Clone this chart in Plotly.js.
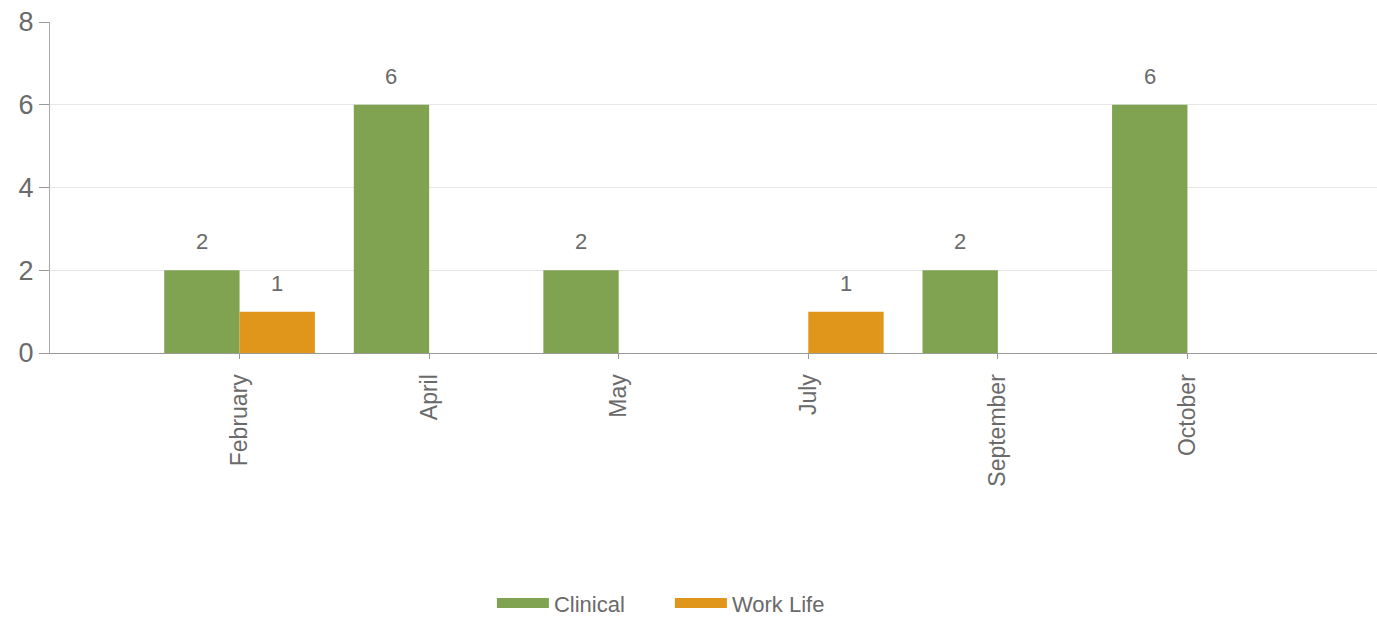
<!DOCTYPE html>
<html>
<head>
<meta charset="utf-8">
<script src="https://cdn.plot.ly/plotly-3.0.1.min.js"></script>
<style>html,body{margin:0;padding:0;background:#fff;}#chart{width:1377px;height:618px;}</style>
</head>
<body>
<div id="chart"></div>
<script>
const categories = ["February", "April", "May", "July", "September", "October"];
const clinical = [2, 6, 2, null, 2, 6];
const workLife = [1, null, null, 1, null, null];

const seriesNames = ["Clinical", "Work Life"];
const seriesColors = ["#7FA350", "#E0961A"];
const seriesValues = [clinical, workLife];

const FONT = "Liberation Sans, Arial, sans-serif";
const GREY = "#6a6a6a";

const traces = [];
seriesValues.forEach((vals, i) => {
  traces.push({
    type: "bar", name: seriesNames[i], x: categories, y: vals,
    marker: {color: seriesColors[i]}, showlegend: false, legendgroup: seriesNames[i]
  });
});
// legend-only entries drawn as wide swatches
seriesValues.forEach((vals, i) => {
  traces.push({
    type: "scatter", mode: "lines", name: seriesNames[i], x: [null], y: [null],
    line: {color: seriesColors[i], width: 18}, legendgroup: seriesNames[i], hoverinfo: "skip"
  });
});

// value labels above bars
const annotations = [];
seriesValues.forEach((vals, i) => {
  const shift = i === 0 ? -37.7 : 37.7;
  vals.forEach((v, j) => {
    if (v == null) return;
    annotations.push({
      x: categories[j], y: v, xref: "x", yref: "y",
      text: String(v), showarrow: false,
      xshift: shift, yshift: 14, yanchor: "bottom",
      font: {family: FONT, size: 22, color: GREY}
    });
  });
});

const layout = {
  width: 1377, height: 618,
  margin: {l: 50, r: 0, t: 22, b: 265, autoexpand: false},
  paper_bgcolor: "#fff", plot_bgcolor: "#fff",
  font: {family: FONT, color: GREY},
  barmode: "group", bargap: 0.205, bargroupgap: 0,
  showlegend: true,
  annotations: annotations,
  legend: {orientation: "h", x: 0.333, xanchor: "left", yref: "container", y: 0.024, yanchor: "middle",
           font: {size: 22, color: GREY}, itemwidth: 52, entrywidth: 111, traceorder: "normal"},
  xaxis: {
    type: "category", range: [-1, 6],
    tickangle: -90, tickfont: {size: 23, color: GREY},
    ticks: "outside", ticklen: 5, tickcolor: "#999",
    ticklabelstandoff: 6,
    showline: true, linecolor: "#999", linewidth: 1,
    showgrid: false, fixedrange: true, automargin: false
  },
  yaxis: {
    range: [0, 8], dtick: 2,
    tickfont: {size: 27, color: GREY},
    ticks: "outside", ticklen: 10, tickcolor: "#999",
    showline: true, linecolor: "#aaa", linewidth: 1,
    showgrid: true, gridcolor: "#e6e6e6",
    zeroline: true, zerolinecolor: "#999", zerolinewidth: 1,
    fixedrange: true, automargin: false
  }
};

Plotly.newPlot("chart", traces, layout, {displayModeBar: false, staticPlot: true});
</script>
</body>
</html>
